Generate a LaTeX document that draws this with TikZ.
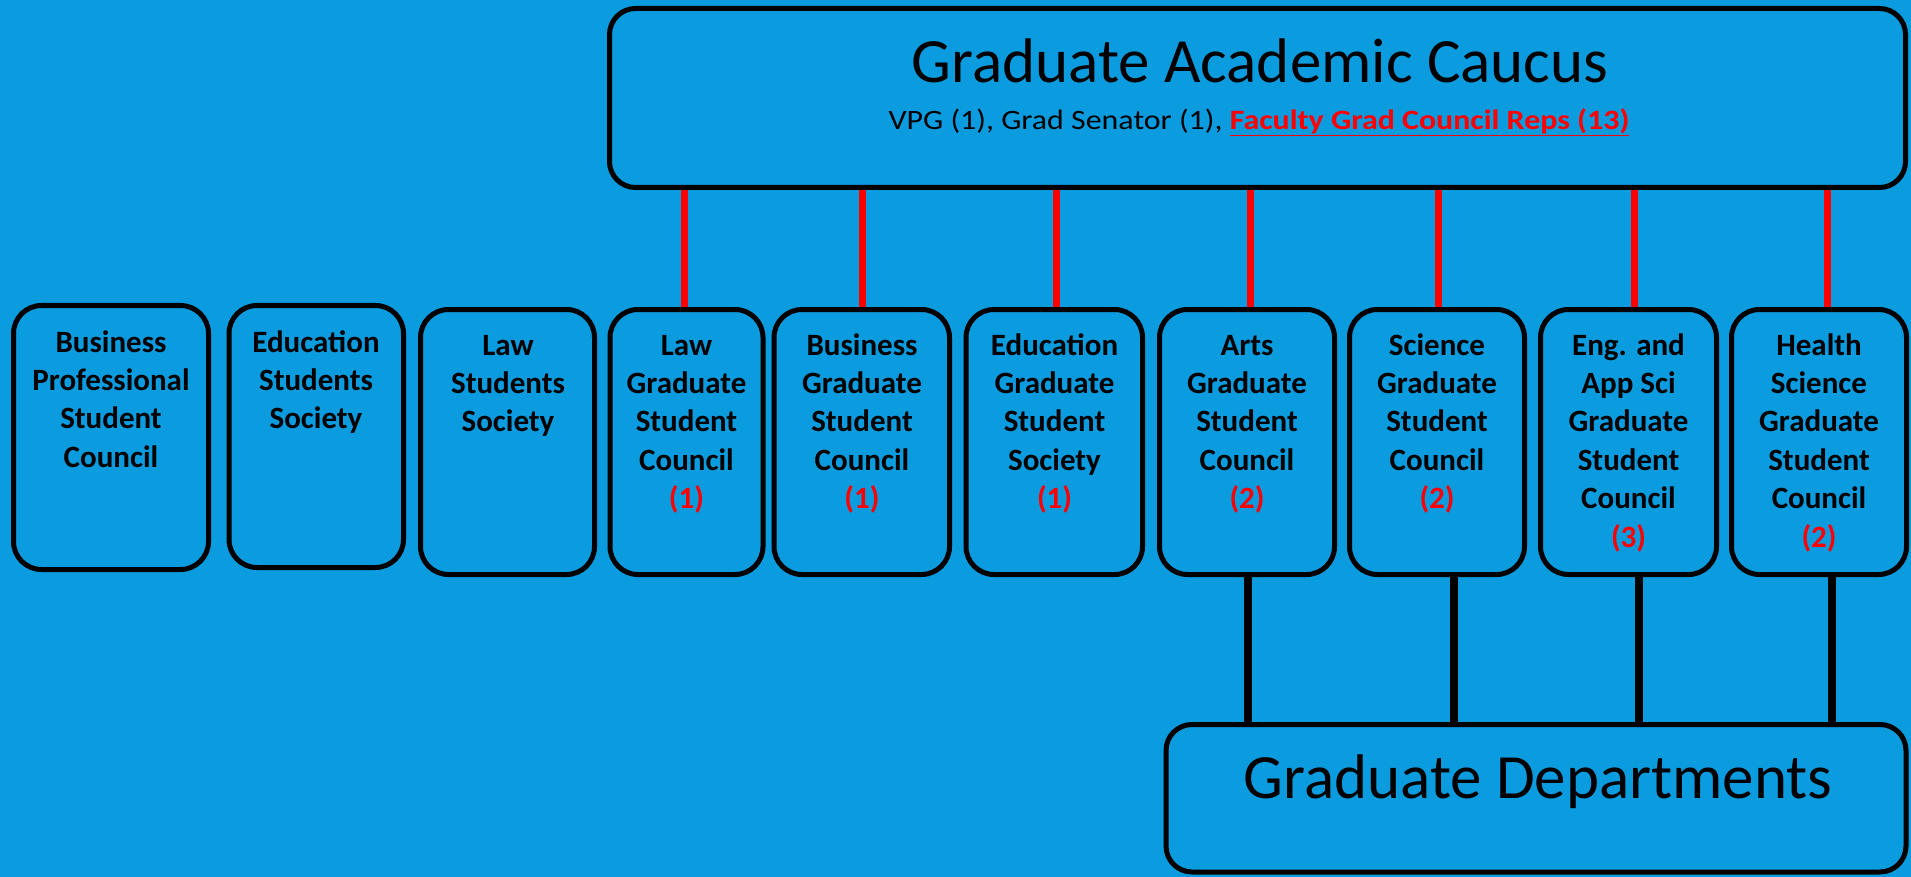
\documentclass[tikz,border=0pt]{standalone}
\usepackage{fontspec}
\setmainfont{Carlito}
\newfontfamily\subfont[FakeStretch=1.14]{Carlito}
\definecolor{bgblue}{RGB}{11,155,223}
\pgfdeclarelayer{back}
\pgfdeclarelayer{lines}
\pgfsetlayers{back,lines,main}
\begin{document}
\begin{tikzpicture}[x=1pt,y=-1pt,
  box/.style={draw=black, line width=5pt, fill=bgblue, rounded corners=28pt, inner sep=0pt},
  bigbox/.style={box, rounded corners=26pt},
  txt/.style={align=center, inner sep=0pt, font=\fontsize{31}{38.4}\selectfont\bfseries},
  bigtxt/.style={anchor=base, inner sep=0pt, font=\fontsize{63}{70}\selectfont},
  redline/.style={draw=red, line width=7pt},
  blkline/.style={draw=black, line width=8pt}]
\useasboundingbox (0,0) rectangle (1911,877);
\begin{pgfonlayer}{back}
\fill[bgblue] (0,0) rectangle (1911,877);
\end{pgfonlayer}

% top box
\node[bigbox, minimum width=1296pt, minimum height=179pt] (top) at (1257.5,98) {};
\node[bigtxt] (title) at (1260,83) {Graduate Academic Caucus};
\node[anchor=base, inner sep=0pt, font=\subfont\fontsize{28}{34}\selectfont] (sub) at (1259,129.5) {VPG (1), Grad Senator (1), \textcolor{red}{\bfseries\underline{Faculty Grad Council Reps (13)}}};

% middle boxes
\node[box, minimum width=195pt, minimum height=264pt] (b1) at (111,437.5) {};
\node[box, minimum width=174.5pt, minimum height=262pt] (b2) at (316.25,436.5) {};
\node[box, minimum width=174pt, minimum height=265pt] (b3) at (507.5,442) {};
\node[box, minimum width=153pt, minimum height=265pt] (b4) at (686.5,442) {};
\node[box, minimum width=175.5pt, minimum height=265pt] (b5) at (861.75,442) {};
\node[box, minimum width=176.5pt, minimum height=265pt] (b6) at (1054.25,442) {};
\node[box, minimum width=175pt, minimum height=265pt] (b7) at (1247,442) {};
\node[box, minimum width=175pt, minimum height=265pt] (b8) at (1437,442) {};
\node[box, minimum width=176pt, minimum height=265pt] (b9) at (1628.5,442) {};
\node[box, minimum width=175pt, minimum height=265pt] (b10) at (1819,442) {};

\node[txt, anchor=north] (t1) at (111,325) {\strut Business\\Professional\\Student\\Council};
\node[txt, anchor=north] (t2) at (316,325) {\strut Education\\Students\\Society};
\node[txt, anchor=north] (t3) at (508,328) {\strut Law\\Students\\Society};
\node[txt, anchor=north] (t4) at (686.5,328) {\strut Law\\Graduate\\Student\\Council\\\textcolor{red}{(1)}};
\node[txt, anchor=north] (t5) at (862,328) {\strut Business\\Graduate\\Student\\Council\\\textcolor{red}{(1)}};
\node[txt, anchor=north] (t6) at (1054.5,328) {\strut Education\\Graduate\\Student\\Society\\\textcolor{red}{(1)}};
\node[txt, anchor=north] (t7) at (1247,328) {\strut Arts\\Graduate\\Student\\Council\\\textcolor{red}{(2)}};
\node[txt, anchor=north] (t8) at (1437,328) {\strut Science\\Graduate\\Student\\Council\\\textcolor{red}{(2)}};
\node[txt, anchor=north] (t9) at (1628.5,328) {\strut Eng. and\\App Sci\\Graduate\\Student\\Council\\\textcolor{red}{(3)}};
\node[txt, anchor=north] (t10) at (1819,328) {\strut Health\\Science\\Graduate\\Student\\Council\\\textcolor{red}{(2)}};

% bottom box
\node[bigbox, minimum width=740pt, minimum height=147.5pt] (dep) at (1536,798.25) {};
\node[bigtxt] (deptxt) at (1538,798) {Graduate Departments};

\begin{pgfonlayer}{lines}
\draw[redline] (top.south -| 684,0) -- (b4.north -| 684,0);
\draw[redline] (top.south -| 862,0) -- (b5.north -| 862,0);
\draw[redline] (top.south -| 1056,0) -- (b6.north -| 1056,0);
\draw[redline] (top.south -| 1250,0) -- (b7.north -| 1250,0);
\draw[redline] (top.south -| 1438,0) -- (b8.north -| 1438,0);
\draw[redline] (top.south -| 1634,0) -- (b9.north -| 1634,0);
\draw[redline] (top.south -| 1827,0) -- (b10.north -| 1827,0);
\draw[blkline] (b7.south -| 1248,0) -- (dep.north -| 1248,0);
\draw[blkline] (b8.south -| 1454,0) -- (dep.north -| 1454,0);
\draw[blkline] (b9.south -| 1639,0) -- (dep.north -| 1639,0);
\draw[blkline] (b10.south -| 1832,0) -- (dep.north -| 1832,0);
\end{pgfonlayer}
\end{tikzpicture}
\end{document}
